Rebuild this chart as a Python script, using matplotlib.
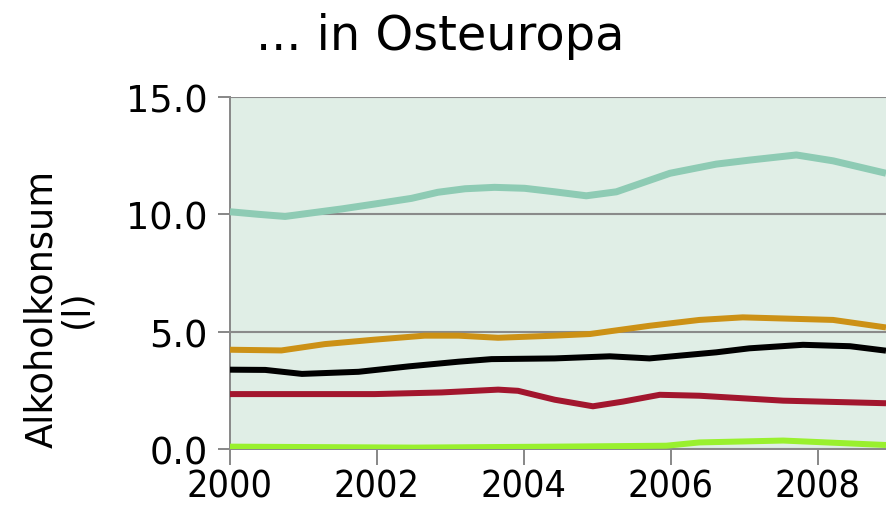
import matplotlib
matplotlib.use("Agg")
import matplotlib.pyplot as plt

# ---- data ----
teal_x = [2000.0, 2000.39, 2000.75, 2001.11, 2001.52, 2001.97, 2002.47, 2002.83, 2003.2, 2003.6, 2004.01, 2004.42, 2004.85, 2005.26, 2005.99, 2006.62, 2007.07, 2007.71, 2008.21, 2008.93]
teal_y = [10.11, 10.0, 9.91, 10.06, 10.23, 10.44, 10.68, 10.94, 11.09, 11.15, 11.11, 10.96, 10.79, 10.96, 11.75, 12.14, 12.31, 12.53, 12.28, 11.75]

orange_x = [2000.0, 2000.7, 2001.29, 2001.97, 2002.65, 2003.11, 2003.65, 2004.42, 2004.9, 2005.71, 2006.39, 2006.98, 2008.21, 2008.93]
orange_y = [4.23, 4.2, 4.47, 4.66, 4.83, 4.83, 4.74, 4.83, 4.9, 5.25, 5.5, 5.61, 5.5, 5.18]

black_x = [2000.0, 2000.48, 2000.98, 2001.75, 2002.43, 2003.11, 2003.56, 2004.42, 2005.17, 2005.71, 2006.62, 2007.07, 2007.8, 2008.44, 2008.93]
black_y = [3.38, 3.37, 3.2, 3.29, 3.52, 3.72, 3.83, 3.86, 3.95, 3.86, 4.12, 4.29, 4.44, 4.38, 4.19]

red_x = [2000.0, 2001.97, 2002.88, 2003.65, 2003.92, 2004.42, 2004.94, 2005.35, 2005.85, 2006.39, 2007.53, 2008.93]
red_y = [2.34, 2.34, 2.41, 2.53, 2.48, 2.1, 1.82, 2.02, 2.31, 2.27, 2.06, 1.95]

lime_x = [2000.0, 2002.5, 2004.4, 2005.94, 2006.39, 2007.53, 2008.93]
lime_y = [0.1, 0.06, 0.1, 0.14, 0.28, 0.36, 0.17]

y_ticks = [0.0, 5.0, 10.0, 15.0]
x_ticks = [2000, 2002, 2004, 2006, 2008]

title = "... in Osteuropa"
ylabel = "Alkoholkonsum\n(l)"

PX = 72 / 100  # points per pixel at dpi 100

fig = plt.figure(figsize=(8.86, 5.06), dpi=100)
ax = fig.add_axes([230 / 886, 1 - 450 / 506, 1 - 230 / 886, (450 - 98) / 506])
ax.set_facecolor("#e0eee6")

series = [
    (teal_x, teal_y, "#8ecbb4", 7.0),
    (orange_x, orange_y, "#cc9116", 6.0),
    (black_x, black_y, "#000000", 6.0),
    (red_x, red_y, "#a2162e", 6.0),
    (lime_x, lime_y, "#99f02e", 6.0),
]
for xs, ys, c, lw in series:
    ax.plot(xs, ys, color=c, lw=lw * PX, solid_capstyle="butt",
            solid_joinstyle="round", zorder=3)

ax.set_xlim(2000, 2008.93)
ax.set_ylim(0, 15)
ax.set_yticks(y_ticks)
ax.set_yticklabels([f"{v:.1f}" for v in y_ticks])
ax.set_xticks(x_ticks)
ax.set_xticklabels([str(v) for v in x_ticks])

ax.grid(axis="y", color="#8a8a8a", lw=1.5 * PX * 1.4, zorder=1)
ax.grid(axis="x", visible=False)
for s in ["top", "right"]:
    ax.spines[s].set_visible(False)
for s in ["left", "bottom"]:
    ax.spines[s].set_color("#8a8a8a")
    ax.spines[s].set_linewidth(2 * PX)

ax.tick_params(axis="y", length=12 * PX, width=2 * PX, color="#8a8a8a",
               labelsize=26.5, pad=10 * PX)
ax.tick_params(axis="x", length=16 * PX, width=2 * PX, color="#8a8a8a",
               labelsize=27, pad=4 * PX)

for lab in ax.get_xticklabels():
    lab.set_fontfamily("DejaVu Sans")
    lab.set_fontstretch("condensed")

fig.text(0.497, 1 - 50 / 506, title, ha="center", va="baseline", fontsize=34.5)
fig.text(59 / 886, 1 - 309 / 506, ylabel, ha="center", va="center", rotation=90,
         fontsize=26.5, linespacing=0.95, multialignment="center")

fig.savefig("out.png", dpi=100)
